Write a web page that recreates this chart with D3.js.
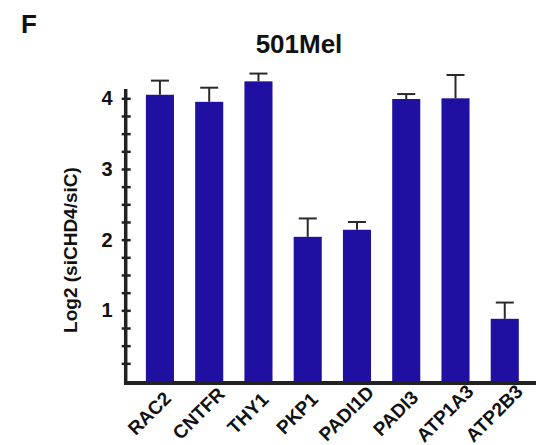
<!DOCTYPE html>
<html>
<head>
<meta charset="utf-8">
<script src="https://cdn.jsdelivr.net/npm/d3@7"></script>
<style>
  body { margin: 0; background: #fff; }
  svg { display: block; font-family: "Liberation Sans", Arial, sans-serif; }
</style>
</head>
<body>
<svg id="chart" width="536" height="445"></svg>
<script>
const genes = ['RAC2', 'CNTFR', 'THY1', 'PKP1', 'PADI1D', 'PADI3', 'ATP1A3', 'ATP2B3'];
const values = [4.05, 3.95, 4.24, 2.04, 2.14, 3.99, 4.00, 0.88];
const errors = [0.20, 0.20, 0.11, 0.26, 0.11, 0.07, 0.33, 0.23];
const yTicks = [1, 2, 3, 4];

const BAR_COLOR = '#1f10a2';
const INK = '#222';

const svg = d3.select('#chart');

const x = d3.scaleBand()
  .domain(genes)
  .range([125.7, 539])
  .paddingInner(0.43)
  .paddingOuter(0.41);

const y = d3.scaleLinear()
  .domain([0, 4])
  .range([381, 98.3]);

// bars
svg.selectAll('.bar')
  .data(genes)
  .enter()
  .append('rect')
  .attr('class', 'bar')
  .attr('x', d => x(d))
  .attr('y', (d, i) => y(values[i]))
  .attr('width', x.bandwidth())
  .attr('height', (d, i) => y(0) - y(values[i]))
  .attr('fill', BAR_COLOR);

// error bars (upper only)
const err = svg.selectAll('.err')
  .data(genes)
  .enter()
  .append('g')
  .attr('class', 'err')
  .attr('stroke', '#2a2a2a')
  .attr('stroke-width', 2);
err.append('line')
  .attr('x1', d => x(d) + x.bandwidth() / 2)
  .attr('x2', d => x(d) + x.bandwidth() / 2)
  .attr('y1', (d, i) => y(values[i]))
  .attr('y2', (d, i) => y(values[i] + errors[i]));
err.append('line')
  .attr('x1', d => x(d) + x.bandwidth() / 2 - 9)
  .attr('x2', d => x(d) + x.bandwidth() / 2 + 9)
  .attr('y1', (d, i) => y(values[i] + errors[i]))
  .attr('y2', (d, i) => y(values[i] + errors[i]));

// y axis: minor ticks every 0.25, crossing the line
const axisX = 125.7;
const minor = svg.append('g')
  .attr('transform', 'translate(' + (axisX + 5) + ',0)')
  .call(d3.axisLeft(y).tickValues(d3.range(1, 17).map(i => i / 4)).tickSize(9).tickFormat(''));
minor.select('.domain').remove();
minor.selectAll('.tick line').attr('stroke', INK).attr('stroke-width', 2.5);

svg.append('line')
  .attr('x1', axisX).attr('x2', axisX)
  .attr('y1', y(0) + 4).attr('y2', y(4.13))
  .attr('stroke', INK)
  .attr('stroke-width', 3.5);

const labels = svg.append('g')
  .attr('transform', 'translate(' + (axisX - 13) + ',0)')
  .call(d3.axisLeft(y).tickValues(yTicks).tickSize(0).tickPadding(0).tickFormat(d3.format('d')));
labels.select('.domain').remove();
labels.selectAll('text')
  .attr('font-family', '"Liberation Sans", Arial, sans-serif')
  .attr('font-size', 20)
  .attr('font-weight', 'bold')
  .attr('fill', '#111');

// x axis
svg.append('line')
  .attr('x1', axisX - 1.7).attr('x2', 536)
  .attr('y1', 383).attr('y2', 383)
  .attr('stroke', INK)
  .attr('stroke-width', 4);

svg.selectAll('.xlabel')
  .data(genes)
  .enter()
  .append('text')
  .attr('class', 'xlabel')
  .attr('transform', d => 'translate(' + (x(d) + x.bandwidth() / 2 - 6) + ',418) rotate(-45)')
  .attr('text-anchor', 'middle')
  .attr('font-size', 19)
  .attr('font-weight', 'bold')
  .attr('fill', '#111')
  .text(d => d);

// y title
svg.append('text')
  .attr('transform', 'translate(77,250) rotate(-90)')
  .attr('text-anchor', 'middle')
  .attr('font-size', 19)
  .attr('font-weight', 'bold')
  .attr('fill', '#111')
  .text('Log2 (siCHD4/siC)');

// title and panel letter
svg.append('text')
  .attr('x', 299)
  .attr('y', 53)
  .attr('text-anchor', 'middle')
  .attr('font-size', 26)
  .attr('font-weight', 'bold')
  .attr('fill', '#111')
  .text('501Mel');

svg.append('text')
  .attr('x', 21)
  .attr('y', 33)
  .attr('font-size', 26)
  .attr('font-weight', 'bold')
  .attr('fill', '#111')
  .text('F');
</script>
</body>
</html>
